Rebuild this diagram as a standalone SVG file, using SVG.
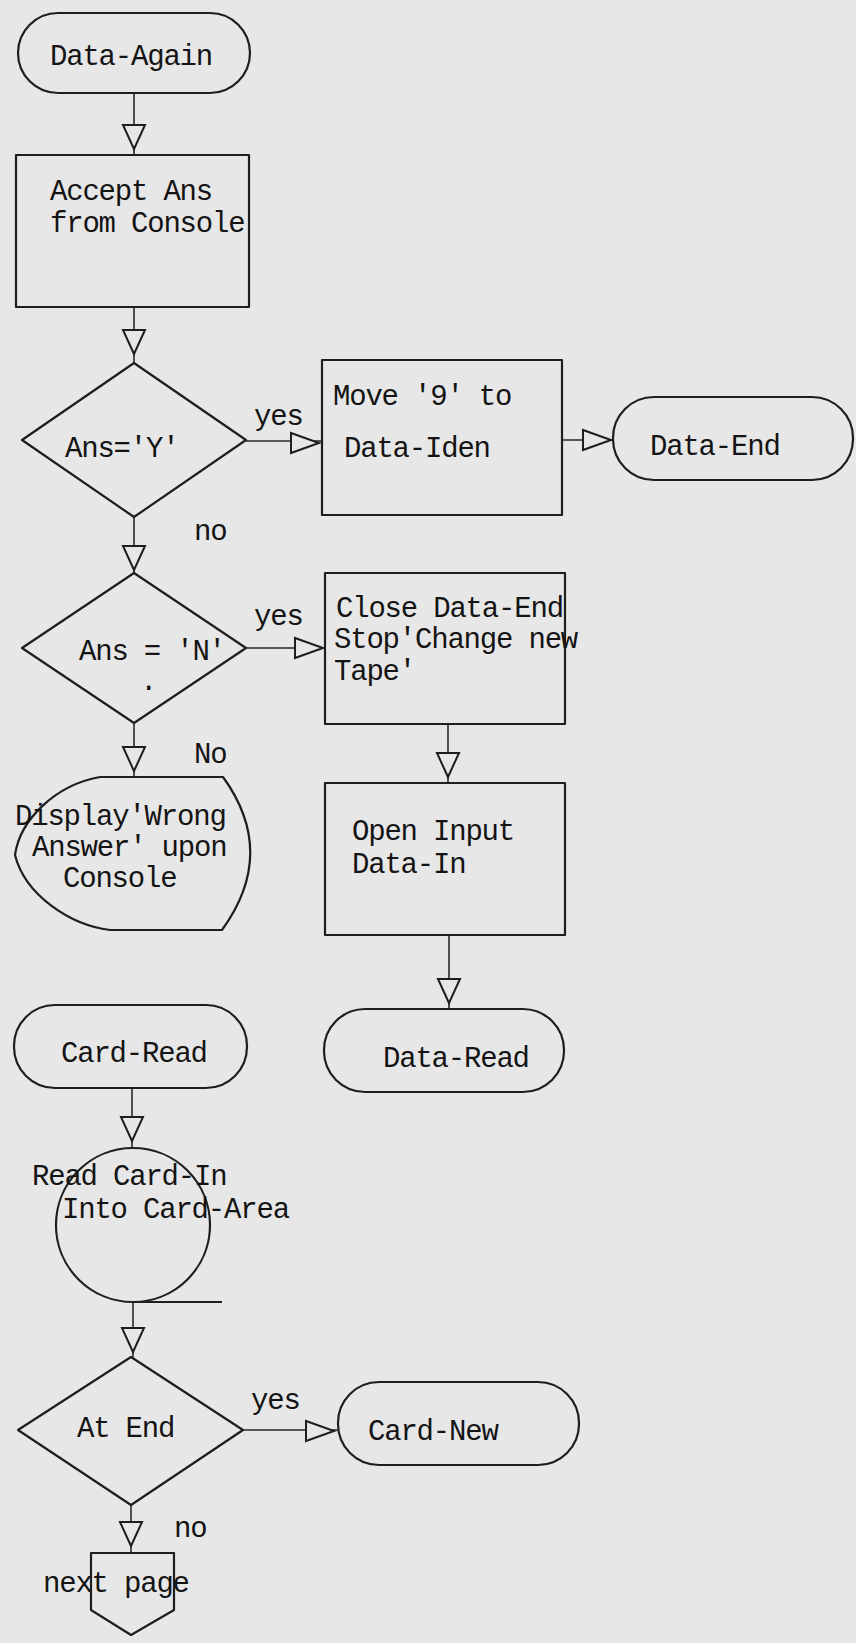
<svg xmlns="http://www.w3.org/2000/svg" xmlns:xlink="http://www.w3.org/1999/xlink" width="856" height="1643" viewBox="0 0 856 1643">
<style>
.bg{fill:#e7e7e7}
.shape{fill:none;stroke:#1e1e1e;stroke-width:2.2;stroke-linejoin:round}
.line{fill:none;stroke:#2a2a2a;stroke-width:1.6}
.tri{fill:#e7e7e7;stroke:#1e1e1e;stroke-width:2}
text{font-family:"Liberation Mono","Courier New",monospace;font-size:29px;letter-spacing:-1.2px;fill:#141414}
</style>
<defs>
<path id="td" d="M-11,0 L11,0 L0,24 Z"/>
<path id="tr" d="M0,-10 L0,10 L28,0 Z"/>
</defs>
<rect class="bg" x="0" y="0" width="856" height="1643"/>
<g id="connectors">
<line class="line" x1="134" y1="93" x2="134" y2="155"/>
<use href="#td" class="tri" x="134" y="125"/>
<line class="line" x1="134" y1="307" x2="134" y2="363"/>
<use href="#td" class="tri" x="134" y="330"/>
<line class="line" x1="246" y1="441" x2="322" y2="441"/>
<use href="#tr" class="tri" x="291" y="443"/>
<line class="line" x1="562" y1="440" x2="613" y2="440"/>
<use href="#tr" class="tri" x="583" y="440"/>
<line class="line" x1="134" y1="517" x2="134" y2="573"/>
<use href="#td" class="tri" x="134" y="546"/>
<line class="line" x1="246" y1="648" x2="325" y2="648"/>
<use href="#tr" class="tri" x="295" y="648"/>
<line class="line" x1="134" y1="723" x2="134" y2="777"/>
<use href="#td" class="tri" x="134" y="747"/>
<line class="line" x1="448" y1="724" x2="448" y2="783"/>
<use href="#td" class="tri" x="448" y="753"/>
<line class="line" x1="449" y1="935" x2="449" y2="1009"/>
<use href="#td" class="tri" x="449" y="979"/>
<line class="line" x1="132" y1="1088" x2="132" y2="1148"/>
<use href="#td" class="tri" x="132" y="1117"/>
<line class="line" x1="133" y1="1302" x2="133" y2="1357"/>
<use href="#td" class="tri" x="133" y="1328"/>
<line class="line" x1="243" y1="1430" x2="338" y2="1430"/>
<use href="#tr" class="tri" x="306" y="1431"/>
<line class="line" x1="131" y1="1505" x2="131" y2="1553"/>
<use href="#td" class="tri" x="131" y="1522"/>
<text x="254" y="425">yes</text>
<text x="194" y="540">no</text>
<text x="254" y="625">yes</text>
<text x="194" y="763">No</text>
<text x="251" y="1409">yes</text>
<text x="174" y="1537">no</text>
</g>
<g id="n-data-again">
<rect class="shape" x="18" y="13" width="232" height="80" rx="40"/>
<text x="50" y="65">Data-Again</text>
</g>
<g id="n-accept">
<rect class="shape" x="16" y="155" width="233" height="152"/>
<text x="50" y="200">Accept Ans</text>
<text x="50" y="232">from Console</text>
</g>
<g id="n-ans-y">
<polygon class="shape" points="134,363 246,440 134,517 22,440"/>
<text x="65" y="457">Ans='Y'</text>
</g>
<g id="n-move">
<rect class="shape" x="322" y="360" width="240" height="155"/>
<text x="333" y="405">Move '9' to</text>
<text x="344" y="457">Data-Iden</text>
</g>
<g id="n-data-end">
<rect class="shape" x="613" y="397" width="240" height="83" rx="41"/>
<text x="650" y="455">Data-End</text>
</g>
<g id="n-ans-n">
<polygon class="shape" points="134,573 246,648 134,723 22,648"/>
<text x="79" y="660">Ans = 'N'</text>
<text x="140" y="690">.</text>
</g>
<g id="n-close">
<rect class="shape" x="325" y="573" width="240" height="151"/>
<text x="336" y="617">Close Data-End</text>
<text x="334" y="648">Stop'Change new</text>
<text x="334" y="680">Tape'</text>
</g>
<g id="n-display">
<path class="shape" d="M100,777 L223,777 Q278,853 222,930 L110,930 C70,925 25,895 15,855 C20,820 55,785 100,777 Z"/>
<text x="15" y="825">Display'Wrong</text>
<text x="32" y="856">Answer' upon</text>
<text x="63" y="887">Console</text>
</g>
<g id="n-open">
<rect class="shape" x="325" y="783" width="240" height="152"/>
<text x="352" y="840">Open Input</text>
<text x="352" y="873">Data-In</text>
</g>
<g id="n-data-read">
<rect class="shape" x="324" y="1009" width="240" height="83" rx="41"/>
<text x="383" y="1067">Data-Read</text>
</g>
<g id="n-card-read">
<rect class="shape" x="14" y="1005" width="233" height="83" rx="41"/>
<text x="61" y="1062">Card-Read</text>
</g>
<g id="n-read-card">
<circle class="shape" cx="133" cy="1225" r="77"/>
<line class="shape" x1="133" y1="1302" x2="222" y2="1302"/>
<text x="32" y="1185">Read Card-In</text>
<text x="62" y="1218">Into Card-Area</text>
</g>
<g id="n-at-end">
<polygon class="shape" points="131,1357 243,1430 131,1505 18,1430"/>
<text x="77" y="1437">At End</text>
</g>
<g id="n-card-new">
<rect class="shape" x="338" y="1382" width="241" height="83" rx="41"/>
<text x="368" y="1440">Card-New</text>
</g>
<g id="n-next-page">
<polygon class="shape" points="91,1553 174,1553 174,1610 131,1635 91,1610"/>
<text x="43" y="1592">next page</text>
</g>
</svg>
